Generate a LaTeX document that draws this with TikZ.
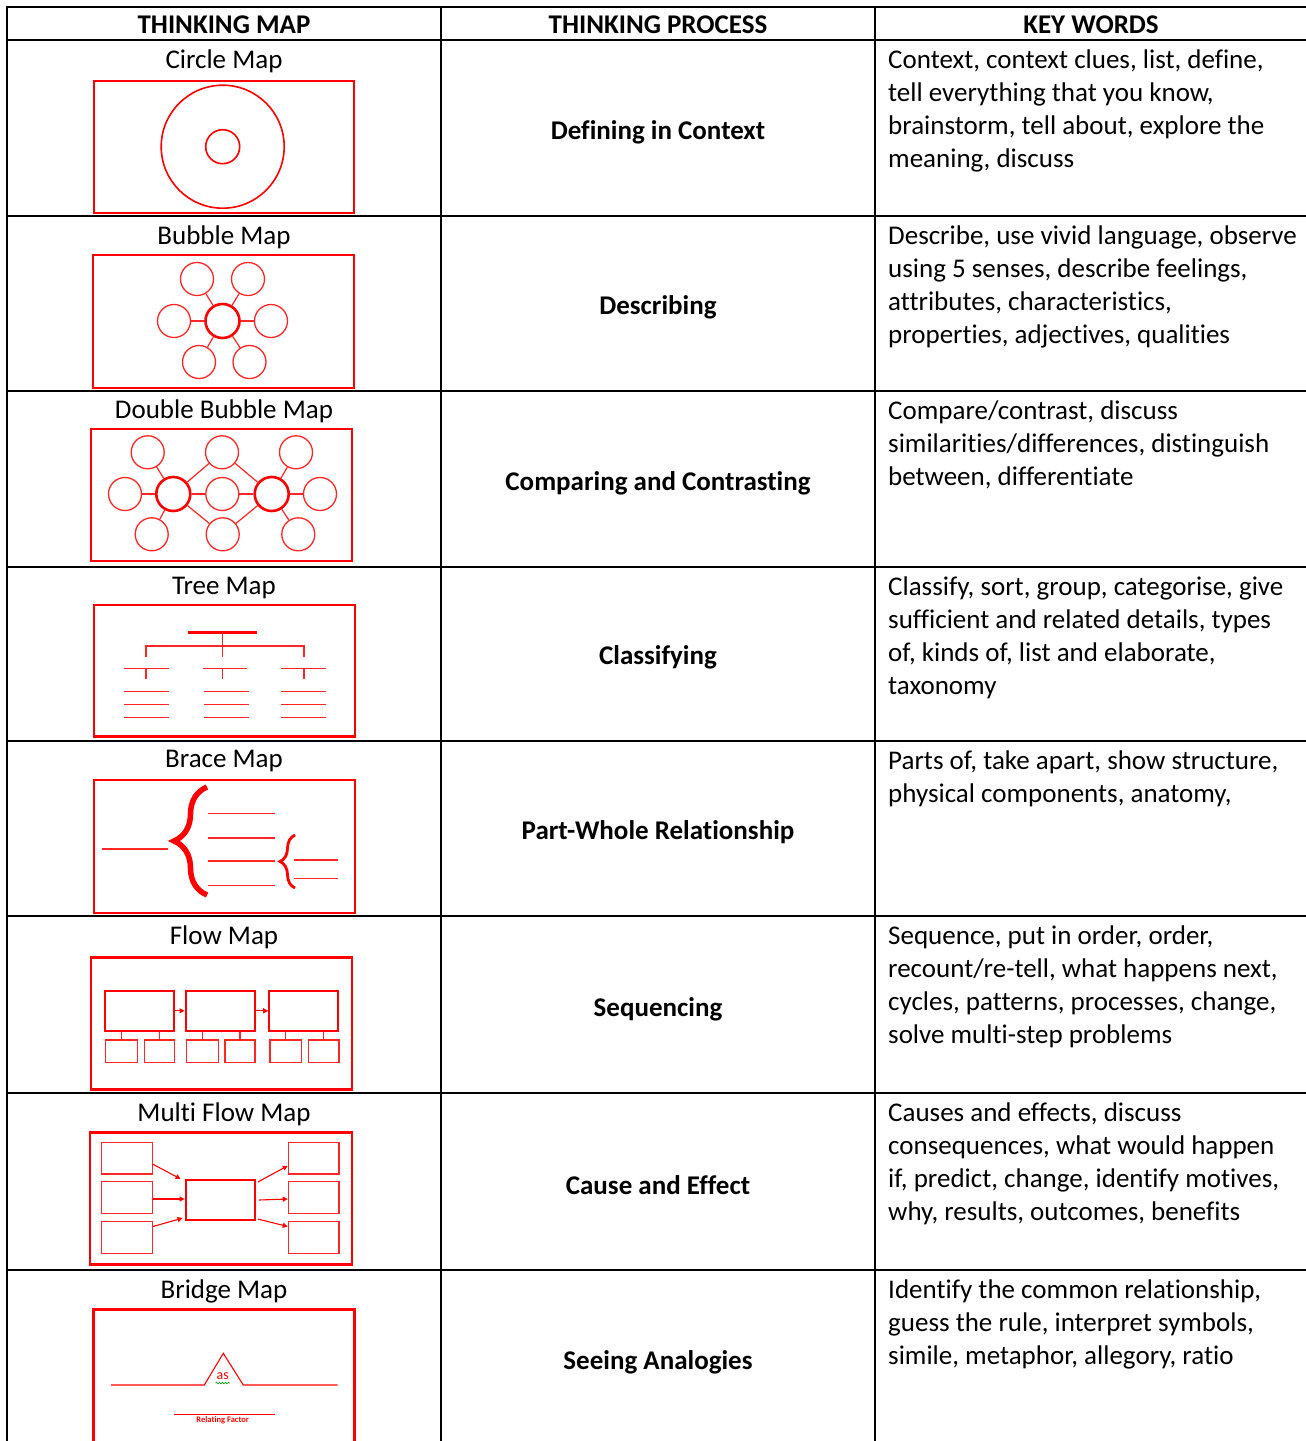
\documentclass[tikz,border=0pt]{standalone}
\usepackage{fontspec}
\setmainfont[Ligatures=NoCommon]{Carlito}
\usepackage{xcolor}
\usetikzlibrary{arrows.meta}
\usetikzlibrary{decorations.pathreplacing}
\usetikzlibrary{decorations.pathmorphing}
\tikzset{
  rule/.style={black,line width=2pt},
  frame/.style={draw=red,line width=2.4pt},
  ring/.style={circle,draw=red,line width=1.6pt,inner sep=0pt},
  bub/.style={circle,draw=red!85,line width=1.3pt,minimum size=33pt,inner sep=0pt},
  hub/.style={bub,draw=red,line width=2.6pt,minimum size=34pt},
  link/.style={red!85,line width=1.2pt},
  bigbox/.style={draw=red,line width=2.2pt,inner sep=0pt},
  smallbox/.style={draw=red!85,line width=1.2pt,inner sep=0pt},
  flowarrow/.style={red,line width=1.1pt,-{Triangle[length=5pt,width=5pt]}},
  bodytext/.style={font=\fontsize{27}{33}\selectfont,inner sep=0pt},
  headtext/.style={font=\fontsize{27}{33}\selectfont\bfseries,inner sep=0pt},
  keywords/.style={bodytext,anchor=north west,align=left},
}
\begin{document}
\begin{tikzpicture}[x=1pt,y=-1pt]
    \useasboundingbox (0,0) rectangle (1306,1441);
    \clip (0,0) rectangle (1306,1441);
    \fill[white] (0,0) rectangle (1306,1441);
    %
    \draw[rule] (7,7) -- (1306,7);
    \draw[rule] (7,40) -- (1306,40);
    \draw[rule] (7,216) -- (1306,216);
    \draw[rule] (7,391) -- (1306,391);
    \draw[rule] (7,567) -- (1306,567);
    \draw[rule] (7,741) -- (1306,741);
    \draw[rule] (7,916) -- (1306,916);
    \draw[rule] (7,1093) -- (1306,1093);
    \draw[rule] (7,1270) -- (1306,1270);
    \draw[rule] (7,6) -- (7,1441);
    \draw[rule] (441,6) -- (441,1441);
    \draw[rule] (875,6) -- (875,1441);
    %
    \node[headtext] (hmap) at (224,25) {THINKING MAP};
    \node[headtext] (hproc) at (658,25) {THINKING PROCESS};
    \node[headtext] (hkey) at (1091,25) {KEY WORDS};
    %
    \node[bodytext] (name1) at (224,61) {Circle Map};
    \node[bodytext] (name2) at (224,237) {Bubble Map};
    \node[bodytext] (name3) at (224,411) {Double Bubble Map};
    \node[bodytext] (name4) at (224,588) {Tree Map};
    \node[bodytext] (name5) at (224,761) {Brace Map};
    \node[bodytext] (name6) at (224,937) {Flow Map};
    \node[bodytext] (name7) at (224,1114) {Multi Flow Map};
    \node[bodytext] (name8) at (224,1291) {Bridge Map};
    %
    \node[headtext] (proc1) at (658,132) {Defining in Context};
    \node[headtext] (proc2) at (658,307) {Describing};
    \node[headtext] (proc3) at (658,483) {Comparing and Contrasting};
    \node[headtext] (proc4) at (658,657) {Classifying};
    \node[headtext] (proc5) at (658,832) {Part-Whole Relationship};
    \node[headtext] (proc6) at (658,1009) {Sequencing};
    \node[headtext] (proc7) at (658,1185) {Cause and Effect};
    \node[headtext] (proc8) at (658,1362) {Seeing Analogies};
    %
    \node[keywords] (key1) at (888,50) {Context, context clues, list, define,\\tell everything that you know,\\brainstorm, tell about, explore the\\meaning, discuss};
    \node[keywords] (key2) at (888,226) {Describe, use vivid language, observe\\using 5 senses, describe feelings,\\attributes, characteristics,\\properties, adjectives, qualities};
    \node[keywords] (key3) at (888,401) {Compare/contrast, discuss\\similarities/differences, distinguish\\between, differentiate};
    \node[keywords] (key4) at (888,577) {Classify, sort, group, categorise, give\\sufficient and related details, types\\of, kinds of, list and elaborate,\\taxonomy};
    \node[keywords] (key5) at (888,751) {Parts of, take apart, show structure,\\physical components, anatomy,};
    \node[keywords] (key6) at (888,926) {Sequence, put in order, order,\\recount/re-tell, what happens next,\\cycles, patterns, processes, change,\\solve multi-step problems};
    \node[keywords] (key7) at (888,1103) {Causes and effects, discuss\\consequences, what would happen\\if, predict, change, identify motives,\\why, results, outcomes, benefits};
    \node[keywords] (key8) at (888,1280) {Identify the common relationship,\\guess the rule, interpret symbols,\\simile, metaphor, allegory, ratio};
    %
    % circle map
    \draw[frame] (94,81) rectangle (354,213);
    \node[ring,minimum size=123pt] (context) at (222.7,146.7) {};
    \node[ring,minimum size=34pt] (topic) at (context) {};
    %
    % bubble map
    \draw[frame] (93,255) rectangle (354,388);
    \node[hub] (adj) at (222.5,321) {};
    \node[bub] (adjA) at (197,279) {};
    \node[bub] (adjB) at (248,279) {};
    \node[bub] (adjC) at (174,321) {};
    \node[bub] (adjD) at (271,321) {};
    \node[bub] (adjE) at (199,362) {};
    \node[bub] (adjF) at (249.5,362) {};
    \draw[link] (adj) -- (adjA);
    \draw[link] (adj) -- (adjB);
    \draw[link] (adj) -- (adjC);
    \draw[link] (adj) -- (adjD);
    \draw[link] (adj) -- (adjE);
    \draw[link] (adj) -- (adjF);
    %
    % double bubble map
    \draw[frame] (91,429) rectangle (352,561);
    \node[hub] (left) at (173.3,494) {};
    \node[hub] (right) at (271.7,494) {};
    \node[bub] (lA) at (147.7,452.3) {};
    \node[bub] (lB) at (125,494) {};
    \node[bub] (lC) at (151.7,534.3) {};
    \node[bub] (mA) at (222,452.3) {};
    \node[bub] (mB) at (222.3,494) {};
    \node[bub] (mC) at (222.7,534.3) {};
    \node[bub] (rA) at (296,452.3) {};
    \node[bub] (rB) at (320,494) {};
    \node[bub] (rC) at (298.3,534.3) {};
    \draw[link] (left) -- (lA);
    \draw[link] (left) -- (lB);
    \draw[link] (left) -- (lC);
    \draw[link] (left) -- (mA);
    \draw[link] (left) -- (mB);
    \draw[link] (left) -- (mC);
    \draw[link] (right) -- (rA);
    \draw[link] (right) -- (rB);
    \draw[link] (right) -- (rC);
    \draw[link] (right) -- (mA);
    \draw[link] (right) -- (mB);
    \draw[link] (right) -- (mC);
    %
    % tree map
    \draw[frame] (94,605) rectangle (355,736.5);
    \draw[red,line width=2.6pt] (188.3,632.3) -- (257.3,632.3);
    \draw[link] (222.7,632.3) -- (222.7,657.3);
    \draw[link] (146,657.3) -- (146,646) -- (304,646) -- (304,657.3);
    \draw[link] (124.3,668.7) -- (169,668.7);
    \draw[link] (202.7,668.7) -- (247.3,668.7);
    \draw[link] (280.7,668.7) -- (325.7,668.7);
    \draw[link] (146,668.7) -- (146,679);
    \draw[link] (222.7,668.7) -- (222.7,679);
    \draw[link] (304,668.7) -- (304,679);
    \draw[link] (124.3,691.3) -- (169,691.3);
    \draw[link] (124.3,704.3) -- (169,704.3);
    \draw[link] (124.3,717.7) -- (169,717.7);
    \draw[link] (204,691.3) -- (248.7,691.3);
    \draw[link] (204,704.3) -- (248.7,704.3);
    \draw[link] (204,717.7) -- (248.7,717.7);
    \draw[link] (280.7,691.3) -- (325.7,691.3);
    \draw[link] (280.7,704.3) -- (325.7,704.3);
    \draw[link] (280.7,717.7) -- (325.7,717.7);
    %
    % brace map
    \draw[frame] (94,780) rectangle (355,913);
    \draw[link] (102.3,849) -- (167.7,849);
    \draw[red,line width=5.5pt,decorate,decoration={brace,amplitude=33pt}] (207,895) -- (207,787);
    \draw[link] (208.3,813.7) -- (275,813.7);
    \draw[link] (208.3,838) -- (275,838);
    \draw[link] (208.3,861) -- (275,861);
    \draw[link] (208.3,885.7) -- (275,885.7);
    \draw[red,line width=2.8pt,decorate,decoration={brace,amplitude=15pt}] (295,888) -- (295,835);
    \draw[link] (294,860) -- (338.3,860);
    \draw[link] (294,878.3) -- (338.3,878.3);
    %
    % flow map
    \draw[frame] (91,957.3) rectangle (351.7,1089.3);
    \node[bigbox,minimum width=69pt,minimum height=40.3pt] (step1) at (139.5,1010.8) {};
    \node[bigbox,minimum width=69.3pt,minimum height=40.3pt] (step2) at (220.3,1010.8) {};
    \node[bigbox,minimum width=69pt,minimum height=40.3pt] (step3) at (303.8,1010.8) {};
    \node[smallbox,minimum width=32pt,minimum height=22.7pt] (sub1) at (121.7,1051.3) {};
    \node[smallbox,minimum width=30pt,minimum height=22.7pt] (sub2) at (159.3,1051.3) {};
    \node[smallbox,minimum width=31.6pt,minimum height=22.7pt] (sub3) at (202.5,1051.3) {};
    \node[smallbox,minimum width=30pt,minimum height=22.7pt] (sub4) at (240,1051.3) {};
    \node[smallbox,minimum width=31.7pt,minimum height=22.7pt] (sub5) at (285.8,1051.3) {};
    \node[smallbox,minimum width=30.7pt,minimum height=22.7pt] (sub6) at (323.6,1051.3) {};
    \draw[flowarrow] (step1) -- (step2);
    \draw[flowarrow] (step2) -- (step3);
    \draw[link] (sub1.north) -- (sub1.north |- step1.south);
    \draw[link] (sub2.north) -- (sub2.north |- step1.south);
    \draw[link] (sub3.north) -- (sub3.north |- step2.south);
    \draw[link] (sub4.north) -- (sub4.north |- step2.south);
    \draw[link] (sub5.north) -- (sub5.north |- step3.south);
    \draw[link] (sub6.north) -- (sub6.north |- step3.south);
    %
    % multi flow map
    \draw[frame] (90,1132.3) rectangle (351.7,1264.3);
    \node[bigbox,minimum width=69.3pt,minimum height=40pt] (event) at (220.3,1200) {};
    \node[smallbox,minimum width=50.6pt,minimum height=31.7pt] (cause1) at (127,1158.2) {};
    \node[smallbox,minimum width=50.6pt,minimum height=31.7pt] (cause2) at (127,1197.5) {};
    \node[smallbox,minimum width=50.6pt,minimum height=31.7pt] (cause3) at (127,1237.5) {};
    \node[smallbox,minimum width=50.7pt,minimum height=31.7pt] (effect1) at (313.7,1158.2) {};
    \node[smallbox,minimum width=50.7pt,minimum height=31.7pt] (effect2) at (313.7,1197.5) {};
    \node[smallbox,minimum width=50.7pt,minimum height=31.7pt] (effect3) at (313.7,1237.5) {};
    \draw[flowarrow] ([yshift=-6pt]cause1.east) -- ([xshift=-4pt]event.north west);
    \draw[flowarrow] ([yshift=-1.5pt]cause2.east) -- ([yshift=1pt]event.west);
    \draw[flowarrow] ([yshift=11pt]cause3.east) -- ([xshift=-2pt,yshift=3pt]event.south west);
    \draw[flowarrow] ([xshift=2pt,yshift=-3pt]event.north east) -- ([yshift=-7.5pt]effect1.east -| effect1.west);
    \draw[flowarrow] ([xshift=3pt]event.east) -- ([yshift=-1.5pt]effect2.west);
    \draw[flowarrow] ([xshift=2pt,yshift=2pt]event.south east) -- ([yshift=11pt]effect3.west);
    %
    % bridge map
    \draw[frame] (93.3,1309.3) rectangle (354.3,1460);
    \coordinate (pickL) at (111,1385);
    \coordinate (pickR) at (337.7,1385);
    \draw[red,line width=1.1pt] (pickL) -- (204.3,1385) -- (223.3,1353.3) -- (243.3,1385) -- (pickR);
    \node[red,font=\fontsize{14}{14}\selectfont,inner sep=0pt] (as) at (222.7,1376) {as};
    \draw[green!60!black,line width=0.6pt,decorate,decoration={snake,amplitude=0.8pt,segment length=3pt}] (215.5,1383) -- (230,1383);
    \coordinate (factL) at (174.3,1414.3);
    \coordinate (factR) at (275,1414.3);
    \draw[red,line width=1.1pt] (factL) -- (factR);
    \node[red,font=\fontsize{8.5}{9}\selectfont\bfseries,inner sep=0pt] (factor) at (222.7,1420.7) {Relating Factor};
\end{tikzpicture}
\end{document}
